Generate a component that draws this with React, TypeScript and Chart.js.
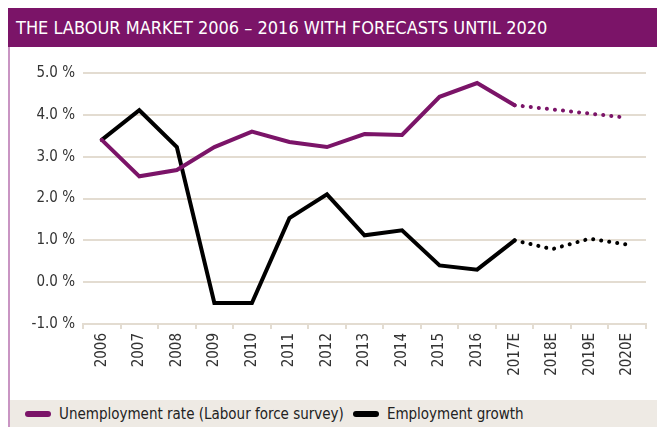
import React, { useEffect, useRef } from "react";
import { Chart, registerables } from "chart.js";

Chart.register(...registerables);

const TITLE = "THE LABOUR MARKET 2006 – 2016 WITH FORECASTS UNTIL 2020";
const categories = ["2006", "2007", "2008", "2009", "2010", "2011", "2012", "2013", "2014", "2015", "2016", "2017E", "2018E", "2019E", "2020E"];
const unemploymentRate = [3.4, 2.53, 2.68, 3.23, 3.6, 3.35, 3.23, 3.54, 3.52, 4.43, 4.76, 4.23, 4.13, 4.03, 3.93];
const employmentGrowth = [3.4, 4.11, 3.23, -0.5, -0.5, 1.53, 2.1, 1.12, 1.24, 0.4, 0.3, 1.0, 0.79, 1.04, 0.9];
const seriesNames = ["Unemployment rate (Labour force survey)", "Employment growth"];
const seriesColors = ["#7b1468", "#000000"];
const yTicks = [-1, 0, 1, 2, 3, 4, 5];
const forecastStart = 11;

const FONT = "'Liberation Sans Narrow', 'DejaVu Sans Condensed', 'Roboto Condensed', sans-serif";
const GRID = "#e3dcd1";

export default function App() {
  const ref = useRef<HTMLCanvasElement | null>(null);
  useEffect(() => {
    if (!ref.current) return;
    const seg = {
      borderDash: (ctx: any) => (ctx.p0DataIndex >= forecastStart ? [0.1, 8] : undefined),
    };
    const chart = new Chart(ref.current, {
      type: "line",
      data: {
        labels: categories,
        datasets: [
          {
            label: seriesNames[0],
            data: unemploymentRate,
            borderColor: seriesColors[0],
            borderWidth: 4,
            pointRadius: 0,
            tension: 0,
            borderCapStyle: "round",
            borderJoinStyle: "miter",
            segment: seg,
          },
          {
            label: seriesNames[1],
            data: employmentGrowth,
            borderColor: seriesColors[1],
            borderWidth: 4,
            pointRadius: 0,
            tension: 0,
            borderCapStyle: "round",
            borderJoinStyle: "miter",
            segment: seg,
          },
        ],
      },
      options: {
        animation: false,
        responsive: false,
        maintainAspectRatio: false,
        layout: { padding: { top: 26, right: 19, left: 0, bottom: 0 } },
        plugins: { legend: { display: false }, tooltip: { enabled: false } },
        scales: {
          x: {
            offset: true,
            grid: { display: true, drawOnChartArea: false, drawTicks: true, tickLength: 5, color: GRID, lineWidth: 2, offset: true },
            border: { display: true, color: GRID, width: 2 },
            ticks: {
              maxRotation: 90,
              minRotation: 90,
              padding: 4,
              autoSkip: false,
              color: "#333333",
              font: { family: FONT, size: 15 },
            },
            afterFit: (s: any) => {
              s.height = 76;
            },
          },
          y: {
            min: -1,
            max: 5,
            afterBuildTicks: (s: any) => {
              s.ticks = yTicks.map((v) => ({ value: v }));
            },
            grid: { color: GRID, lineWidth: 2, drawTicks: false },
            border: { display: false },
            ticks: {
              padding: 8,
              color: "#333333",
              font: { family: FONT, size: 15 },
              callback: (v: any) => Number(v).toFixed(1) + " %",
            },
            afterFit: (s: any) => {
              s.width = 73;
            },
          },
        },
      },
    });
    return () => chart.destroy();
  }, []);

  return (
    <div style={{ position: "relative", width: 657, height: 419, fontFamily: FONT }}>
      <div
        style={{
          position: "absolute",
          left: 0,
          top: 0,
          width: 657,
          height: 39,
          background: "#7b1468",
          color: "#ffffff",
          fontSize: 18,
          lineHeight: "39px",
          paddingLeft: 8,
          boxSizing: "border-box",
          whiteSpace: "nowrap",
        }}
      >
        {TITLE}
      </div>
      <div
        style={{
          position: "absolute",
          left: 0,
          top: 39,
          width: 2,
          height: 380,
          background: "#c995c3",
        }}
      />
      <canvas ref={ref} width={655} height={353} style={{ position: "absolute", left: 2, top: 39, width: 655, height: 353 }} />
      <div
        style={{
          position: "absolute",
          left: 2,
          top: 392,
          width: 655,
          height: 27,
          background: "#eeeae4",
          display: "flex",
          alignItems: "center",
          fontSize: 15,
          color: "#222222",
          whiteSpace: "nowrap",
        }}
      >
        {seriesNames.map((n, i) => (
          <div key={n} style={{ display: "flex", alignItems: "center", marginLeft: i === 0 ? 15 : 9 }}>
            <span
              style={{
                display: "inline-block",
                width: 26,
                height: 6,
                borderRadius: 3,
                background: seriesColors[i],
                marginRight: 8,
              }}
            />
            <span>{n}</span>
          </div>
        ))}
      </div>
    </div>
  );
}
